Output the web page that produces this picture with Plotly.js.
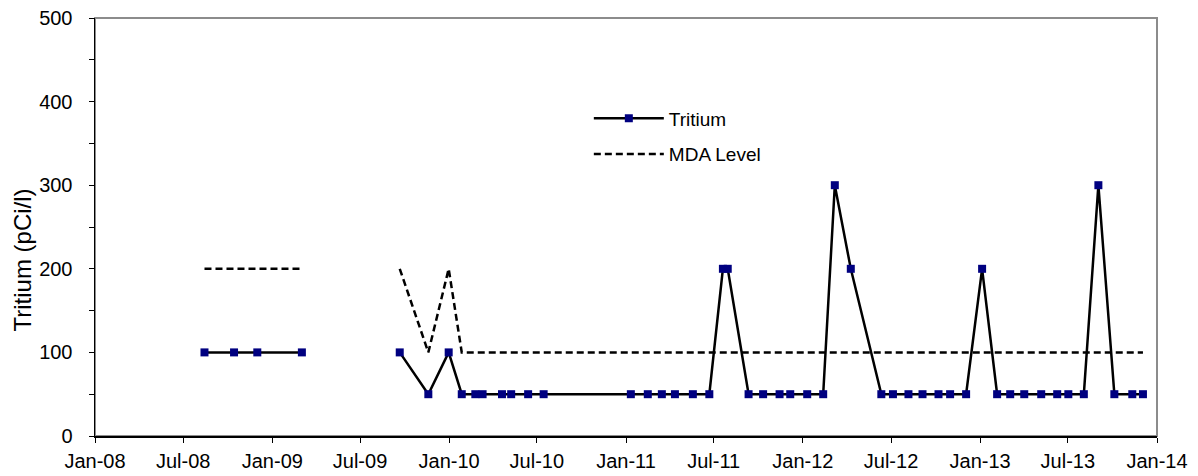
<!DOCTYPE html>
<html>
<head>
<meta charset="utf-8">
<script src="https://cdn.plot.ly/plotly-3.0.1.min.js"></script>
<style>
  html, body { margin: 0; padding: 0; background: #fff; }
  #chart { width: 1198px; height: 476px; }
</style>
</head>
<body>
<div id="chart"></div>
<script>
// Sample dates (the 2009-06-15 entry carries nulls and marks the sampling gap)
const sampleDates = [
  '2008-08-14','2008-10-14','2008-12-01','2009-03-03',
  '2009-06-15',
  '2009-09-21','2009-11-19','2009-12-31','2010-01-27','2010-02-24','2010-03-11',
  '2010-04-20','2010-05-09','2010-06-13','2010-07-15',
  '2011-01-11','2011-02-15','2011-03-16','2011-04-12','2011-05-19','2011-06-22',
  '2011-07-20','2011-07-30',
  '2011-09-11','2011-10-11','2011-11-14','2011-12-06','2012-01-10','2012-02-12',
  '2012-03-07','2012-04-09',
  '2012-06-11','2012-07-05','2012-08-06','2012-09-04','2012-10-07','2012-10-31','2012-12-03',
  '2013-01-05',
  '2013-02-05','2013-03-04','2013-04-02','2013-05-07','2013-06-09','2013-07-02','2013-08-03',
  '2013-09-02',
  '2013-10-05','2013-11-11','2013-12-03'
];

const tritium = [
  100,100,100,100,
  null,
  100,50,100,50,50,50,
  50,50,50,50,
  50,50,50,50,50,50,
  200,200,
  50,50,50,50,50,50,
  300,200,
  50,50,50,50,50,50,50,
  200,
  50,50,50,50,50,50,50,
  300,
  50,50,50
];

const mdaLevel = [
  200,200,200,200,
  null,
  200,100,200,100,100,100,
  100,100,100,100,
  100,100,100,100,100,100,
  100,100,
  100,100,100,100,100,100,
  100,100,
  100,100,100,100,100,100,100,
  100,
  100,100,100,100,100,100,100,
  100,
  100,100,100
];

const seriesNames = ['Tritium', 'MDA Level'];
const yTitle = 'Tritium (pCi/l)';

const FONT = 'Liberation Sans, Arial, sans-serif';

const traces = [
  {
    x: sampleDates, y: tritium, name: seriesNames[0],
    type: 'scatter', mode: 'lines+markers', connectgaps: false,
    line: { color: '#000000', width: 2.5 },
    marker: { symbol: 'square', size: 8, color: '#000080' },
    legendgroup: 'a'
  },
  {
    x: sampleDates, y: mdaLevel, name: seriesNames[1],
    type: 'scatter', mode: 'lines', connectgaps: false,
    line: { color: '#000000', width: 2.5, dash: '7px,4px' },
    legendgroup: 'b'
  }
];

const layout = {
  width: 1198, height: 476,
  margin: { l: 95, r: 41, t: 18, b: 40, pad: 0 },
  paper_bgcolor: '#ffffff',
  plot_bgcolor: '#ffffff',
  font: { family: FONT, size: 20, color: '#000000' },
  showlegend: true,
  legend: {
    x: 0.465, xanchor: 'left',
    y: 0.805, yanchor: 'top',
    bgcolor: 'rgba(0,0,0,0)',
    font: { family: FONT, size: 19, color: '#000000' },
    traceorder: 'grouped',
    tracegroupgap: 8,
    itemwidth: 70
  },
  xaxis: {
    type: 'date',
    range: ['2008-01-01', '2014-01-01'],
    tick0: '2008-01-01', dtick: 'M6',
    tickformat: '%b-%y',
    ticks: 'outside', ticklen: 5, tickwidth: 1, tickcolor: '#000',
    ticklabelstandoff: 1,
    showgrid: false, zeroline: false,
    showline: true, linecolor: '#000', linewidth: 1.5,
    tickfont: { family: FONT, size: 20, color: '#000' }
  },
  yaxis: {
    range: [0, 500],
    tick0: 0, dtick: 100,
    ticks: 'outside', ticklen: 5, tickwidth: 1, tickcolor: '#000',
    minor: { dtick: 50, ticks: 'outside', ticklen: 5, tickcolor: '#000', showgrid: false },
    ticklabelstandoff: 12,
    showgrid: false, zeroline: false,
    showline: true, linecolor: '#000', linewidth: 1.5,
    tickfont: { family: FONT, size: 20, color: '#000' }
  },
  annotations: [
    {
      text: yTitle, textangle: -90,
      xref: 'paper', yref: 'paper',
      x: -0.0687, y: 0.42,
      xanchor: 'center', yanchor: 'middle',
      showarrow: false,
      font: { family: FONT, size: 24, color: '#000' }
    }
  ],
  shapes: [
    {
      type: 'rect', xref: 'paper', yref: 'paper',
      x0: 0, x1: 1, y0: 0, y1: 1,
      line: { color: '#8c8c8c', width: 2 },
      layer: 'below'
    }
  ]
};

Plotly.newPlot('chart', traces, layout, { displayModeBar: false, staticPlot: true });
</script>
</body>
</html>
